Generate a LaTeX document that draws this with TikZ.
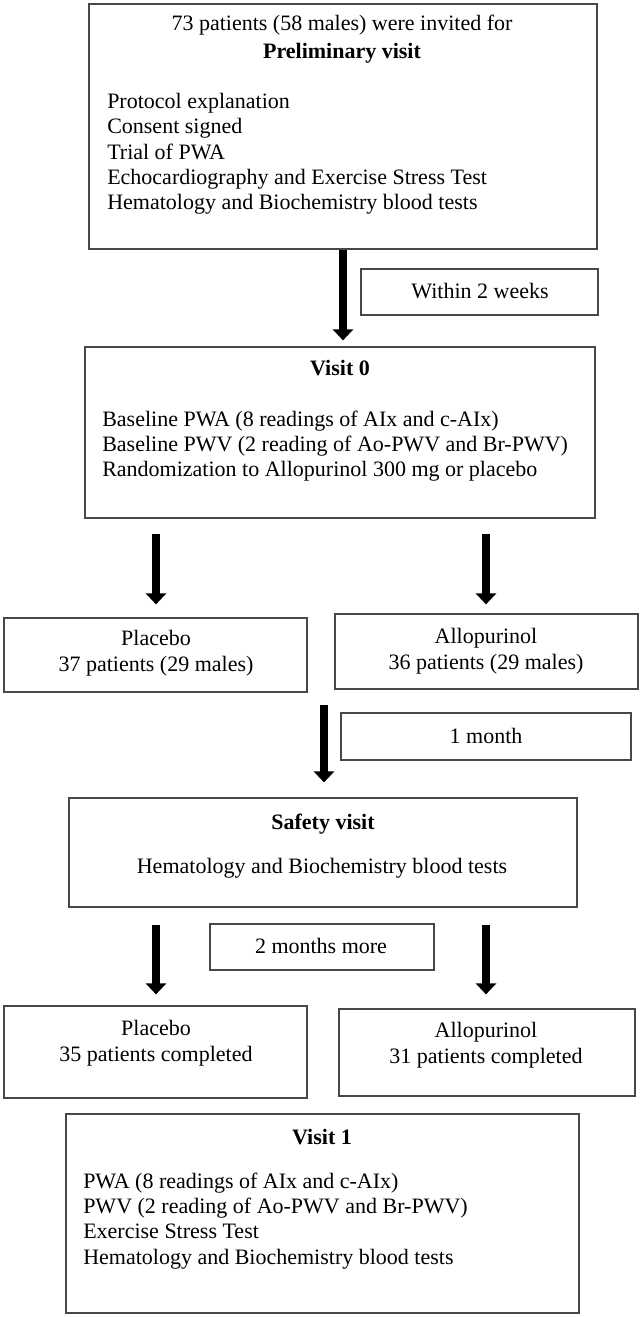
\documentclass[tikz,border=0pt]{standalone}
\usepackage{fontspec}
\setmainfont{Liberation Serif}
\usetikzlibrary{arrows.meta}
\begin{document}
\begin{tikzpicture}[x=0.75pt,y=-0.75pt,
  bx/.style 2 args={draw=black!72, line width=0.9pt, inner sep=0pt, minimum width=#1*0.75pt, minimum height=#2*0.75pt},
  txt/.style={inner sep=0pt, font=\fontsize{16.5}{19}\selectfont},
  hd/.style={inner sep=0pt, font=\fontsize{16.5}{19}\selectfont\bfseries},
  fat/.style={line width=6pt, -{Triangle[width=15pt,length=8.25pt]}}]
\useasboundingbox (0,0) rectangle (641,1317);
% boxes
\node[bx={508}{245}] (b1) at (343,126.5) {};
\node[bx={237}{46}] (w2) at (479.5,292) {};
\node[bx={510}{171}] (v0) at (340,432.5) {};
\node[bx={303}{74}] (pl1) at (155.5,655) {};
\node[bx={303}{75}] (al1) at (486.5,651.5) {};
\node[bx={290}{47}] (m1) at (486,736.5) {};
\node[bx={508}{109}] (sv) at (323,852.5) {};
\node[bx={224}{46}] (m2) at (322,947) {};
\node[bx={303}{92}] (pl2) at (155.5,1052) {};
\node[bx={296}{87}] (al2) at (487,1052.5) {};
\node[bx={513}{199}] (v1) at (322.5,1213.5) {};
% texts: preliminary
\node[txt, anchor=base] (t1) at (342,31) {73 patients (58 males) were invited for};
\node[hd, anchor=base] (t2) at (342,58) {Preliminary visit};
\node[txt, anchor=base west] (t3) at (107,108) {Protocol explanation};
\node[txt, anchor=base west] (t4) at (107,133) {Consent signed};
\node[txt, anchor=base west] (t5) at (107,159) {Trial of PWA};
\node[txt, anchor=base west] (t6) at (107,184) {Echocardiography and Exercise Stress Test};
\node[txt, anchor=base west] (t7) at (107,209) {Hematology and Biochemistry blood tests};
\node[txt, anchor=base] (tw) at (480,298) {Within 2 weeks};
% visit 0
\node[hd, anchor=base] (v0a) at (340,375) {Visit 0};
\node[txt, anchor=base west] (v0b) at (102,426) {Baseline PWA (8 readings of AIx and c-AIx)};
\node[txt, anchor=base west] (v0c) at (102,451) {Baseline PWV (2 reading of Ao-PWV and Br-PWV)};
\node[txt, anchor=base west] (v0d) at (102,476) {Randomization to Allopurinol 300 mg or placebo};
% groups
\node[txt, anchor=base] (pl1a) at (156,645) {Placebo};
\node[txt, anchor=base] (pl1b) at (156,671) {37 patients (29 males)};
\node[txt, anchor=base] (al1a) at (486,643) {Allopurinol};
\node[txt, anchor=base] (al1b) at (486,669) {36 patients (29 males)};
\node[txt, anchor=base] (m1a) at (486,743) {1 month};
% safety
\node[hd, anchor=base] (sva) at (323,829) {Safety visit};
\node[txt, anchor=base] (svb) at (322,873) {Hematology and Biochemistry blood tests};
\node[txt, anchor=base] (m2a) at (321,953) {2 months more};
% completed
\node[txt, anchor=base] (pl2a) at (156,1035) {Placebo};
\node[txt, anchor=base] (pl2b) at (156,1061) {35 patients completed};
\node[txt, anchor=base] (al2a) at (486,1037) {Allopurinol};
\node[txt, anchor=base] (al2b) at (486,1063) {31 patients completed};
% visit 1
\node[hd, anchor=base] (v1a) at (322,1144) {Visit 1};
\node[txt, anchor=base west] (v1b) at (83,1188) {PWA (8 readings of AIx and c-AIx)};
\node[txt, anchor=base west] (v1c) at (83,1213) {PWV (2 reading of Ao-PWV and Br-PWV)};
\node[txt, anchor=base west] (v1d) at (83,1238) {Exercise Stress Test};
\node[txt, anchor=base west] (v1e) at (83,1264) {Hematology and Biochemistry blood tests};
% arrow x positions
\coordinate (xa1) at (343,0);
\coordinate (xl) at (156,0);
\coordinate (xr) at (486,0);
\coordinate (xa3) at (324,0);
% arrows
\draw[fat, shorten >=4.5pt] (b1.south -| xa1) -- (v0.north -| xa1);
\draw[fat, shorten <=11.25pt, shorten >=9.75pt] (v0.south -| xl) -- (pl1.north -| xl);
\draw[fat, shorten <=11.25pt, shorten >=6.75pt] (v0.south -| xr) -- (al1.north -| xr);
\draw[fat, shorten <=9pt, shorten >=11.25pt] (pl1.south -| xa3) -- (sv.north -| xa3);
\draw[fat, shorten <=12.75pt, shorten >=8.25pt] (sv.south -| xl) -- (pl2.north -| xl);
\draw[fat, shorten <=12.75pt, shorten >=10.5pt] (sv.south -| xr) -- (al2.north -| xr);
\end{tikzpicture}
\end{document}
